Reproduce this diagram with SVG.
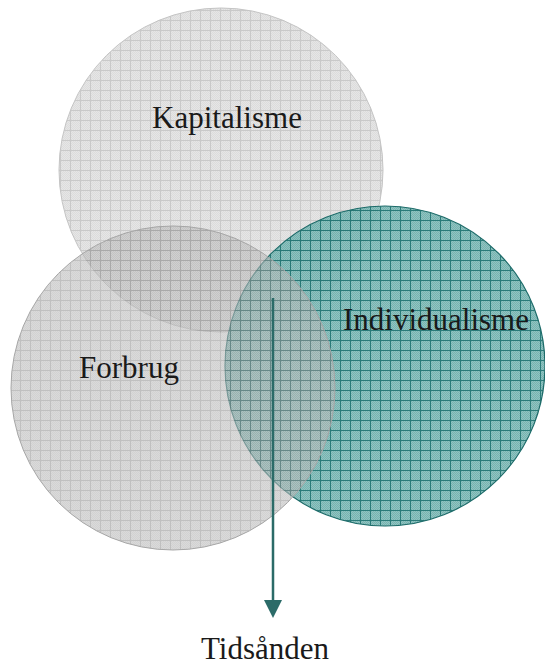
<svg xmlns="http://www.w3.org/2000/svg" width="545" height="667" viewBox="0 0 545 667">
  <style>
    .lbl { font-family: "Liberation Serif", "Times New Roman", serif; font-size: 31px; fill: #1a1a1a; }
    .conn { stroke: #2b6b68; stroke-width: 2.5; fill: none; }
  </style>
  <defs>
    <pattern id="chkGray" width="2" height="2" patternUnits="userSpaceOnUse">
      <rect width="2" height="2" fill="#e6e6e6"/>
      <rect width="1" height="1" fill="#dcdcdc"/>
      <rect x="1" y="1" width="1" height="1" fill="#dcdcdc"/>
    </pattern>
    <pattern id="gridGray" width="10" height="10" patternUnits="userSpaceOnUse">
      <rect width="10" height="10" fill="url(#chkGray)"/>
      <rect x="0" y="0" width="10" height="1" fill="#c9c9c9"/>
      <rect x="0" y="0" width="1" height="10" fill="#c9c9c9"/>
    </pattern>
    <pattern id="chkGray2" width="2" height="2" patternUnits="userSpaceOnUse">
      <rect width="2" height="2" fill="#c0c0c0"/>
      <rect width="1" height="1" fill="#b2b2b2"/>
      <rect x="1" y="1" width="1" height="1" fill="#b2b2b2"/>
    </pattern>
    <pattern id="gridGray2" width="10" height="10" patternUnits="userSpaceOnUse">
      <rect width="10" height="10" fill="url(#chkGray2)"/>
      <rect x="0" y="0" width="10" height="1" fill="#929292"/>
      <rect x="0" y="0" width="1" height="10" fill="#929292"/>
    </pattern>
    <pattern id="chkTeal" width="2" height="2" patternUnits="userSpaceOnUse">
      <rect width="2" height="2" fill="#8ac0bd"/>
      <rect width="1" height="1" fill="#6eaeab"/>
      <rect x="1" y="1" width="1" height="1" fill="#6eaeab"/>
    </pattern>
    <pattern id="gridTeal" width="10" height="10" patternUnits="userSpaceOnUse">
      <rect width="10" height="10" fill="url(#chkTeal)"/>
      <rect x="0" y="0" width="10" height="1" fill="#1d7371"/>
      <rect x="0" y="0" width="1" height="10" fill="#1d7371"/>
    </pattern>
  </defs>

  <g id="kapitalisme">
    <circle cx="221" cy="170" r="162" fill="url(#gridGray)" stroke="#c4c4c4" stroke-width="1"/>
    <text class="lbl" x="227" y="128" text-anchor="middle">Kapitalisme</text>
  </g>

  <g id="individualisme">
    <circle cx="385" cy="366" r="160" fill="url(#gridTeal)" fill-opacity="0.94" stroke="#1d6b69" stroke-width="1.2"/>
  </g>

  <g id="forbrug">
    <circle cx="173" cy="388" r="162" fill="url(#gridGray2)" fill-opacity="0.58" stroke="#a6a6a6" stroke-width="1"/>
    <text class="lbl" x="129" y="378" text-anchor="middle">Forbrug</text>
  </g>

  <g id="individualisme-label">
    <text class="lbl" x="436" y="330" text-anchor="middle">Individualisme</text>
  </g>

  <g id="connectors">
    <line class="conn" x1="273" y1="298" x2="273" y2="603"/>
    <path d="M264,600 L282,600 L273,618 Z" fill="#2b6b68"/>
  </g>

  <g id="tidsanden">
    <text class="lbl" x="265" y="659" text-anchor="middle">Tidsånden</text>
  </g>
</svg>
